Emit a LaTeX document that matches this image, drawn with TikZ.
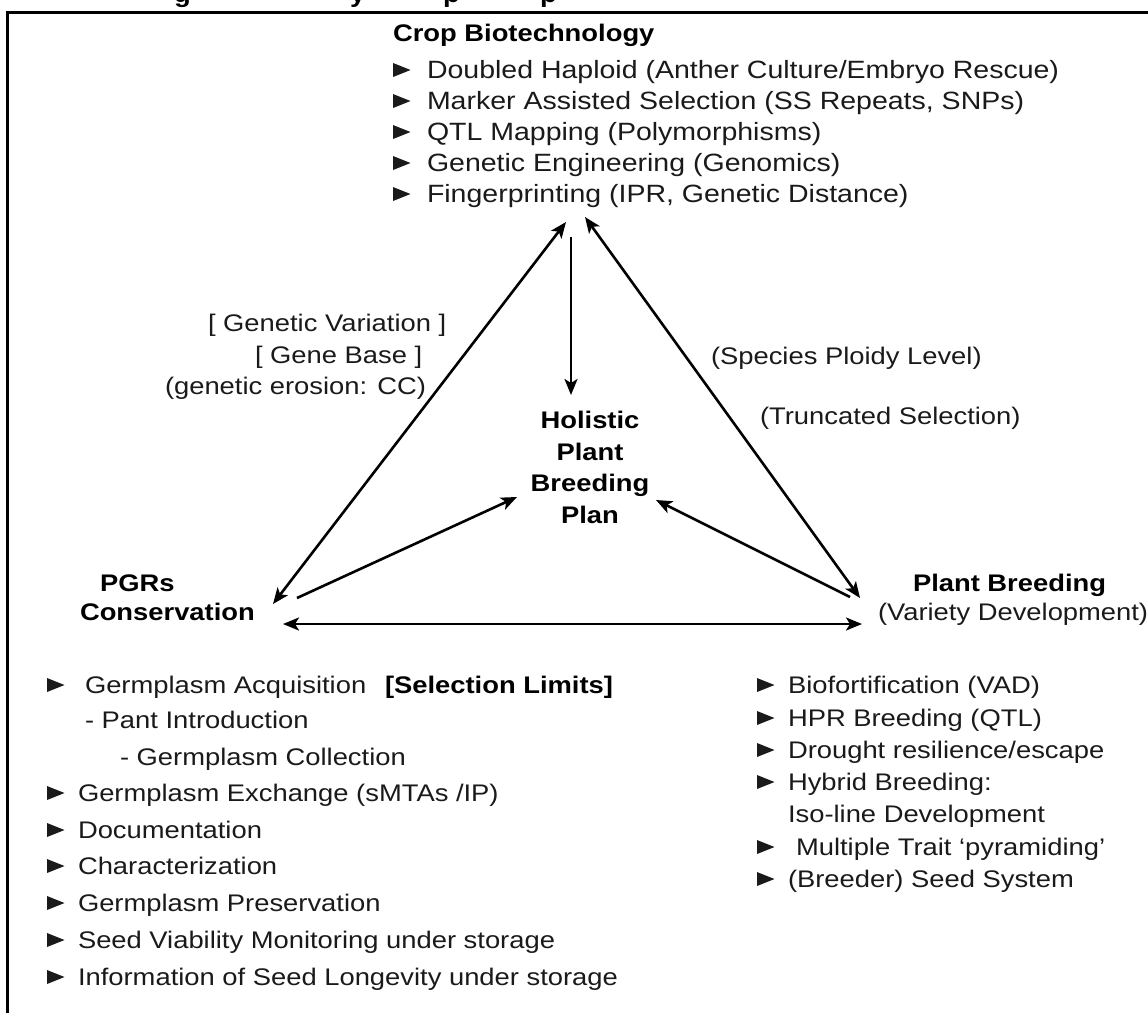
\documentclass[tikz,border=0pt]{standalone}
\usepackage{fontspec}
\setmainfont{Liberation Sans}[FakeStretch=1.14]
\usetikzlibrary{arrows.meta}
\definecolor{ink}{HTML}{1A1A1A}
% small filled pointer in front of a list item: left edge x, text baseline y
\newcommand{\bulletmark}[2]{\fill[ink] (#1,#2) ++(0,-1.5) -- ++(0,-14) -- ++(17.5,7) -- cycle;}
\begin{document}
\begin{tikzpicture}[x=1pt,y=-1pt,
  every node/.style={inner sep=0pt,outer sep=0pt},
  body/.style={anchor=base west,text=ink,font=\fontsize{24}{31}\selectfont},
  bigbody/.style={anchor=base west,text=ink,font=\fontsize{25}{31}\selectfont},
  head/.style={anchor=base west,text=black,font=\fontsize{24}{31}\selectfont\bfseries},
  link/.style={line width=2.6pt,draw=black},
  >={Stealth[length=16pt,width=13pt,inset=4pt]}]
\useasboundingbox (0,0) rectangle (1148,1012);

% frame
\draw[line width=3pt] (7,1030) -- (7,12) -- (1170,12);

% descenders of the heading line above the frame
\begin{scope}
  \clip (0,0) rectangle (1148,10);
  \node[head] (hg) at (174,2) {g};
  \node[head] (hy) at (350,2) {y};
  \node[head] (hp1) at (443,2) {p};
  \node[head] (hp2) at (540,2) {p};
\end{scope}

% crop biotechnology
\node[head] (cb) at (393,41.5) {Crop Biotechnology};
\foreach \yy/\txt [count=\i] in {
  78.5/{Doubled Haploid (Anther Culture/Embryo Rescue)},
  109.5/{Marker Assisted Selection (SS Repeats, SNPs)},
  140.5/{QTL Mapping (Polymorphisms)},
  171.5/{Genetic Engineering (Genomics)},
  202.5/{Fingerprinting (IPR, Genetic Distance)}}{
  \node[bigbody] (cb\i) at (427,\yy) {\txt};
  \bulletmark{393}{\yy}
}

% edge labels
\node[body] (gv) at (208,331.5) {[ Genetic Variation ]};
\node[body] (gb) at (255,363.5) {[ Gene Base ]};
\node[body] (ge) at (165,394.5) {(genetic erosion: CC)};
\node[body] (sp) at (711,364.5) {(Species Ploidy Level)};
\node[body] (ts) at (760,424.5) {(Truncated Selection)};

% centre
\node[anchor=north,align=center,text=black,
      font=\fontsize{24}{31.5}\selectfont\bfseries] (hol) at (590,411.5)
      {Holistic\\Plant\\Breeding\\Plan};

% corners
\node[head] (pgr1) at (100,591.5) {PGRs};
\node[head] (pgr2) at (80,620.5) {Conservation};
\node[head] (pb1) at (913,591.5) {Plant Breeding};
\node[body] (pb2) at (878,620.5) {(Variety Development)};

% connector ends
\coordinate (topL) at (566,222);
\coordinate (topR) at (585,217);
\coordinate (vtop) at (571,237);
\coordinate (holT) at (571,395);
\coordinate (holL) at (517,497);
\coordinate (holR) at (656,500);
\coordinate (pgA) at (273,604);
\coordinate (pgB) at (297,598);
\coordinate (pgC) at (283,624);
\coordinate (pbA) at (860,598);
\coordinate (pbB) at (850,597);
\coordinate (pbC) at (862,624);

\draw[link,<->] (pgA) -- (topL);
\draw[link,<->] (topR) -- (pbA);
\draw[link,->] (vtop) -- (holT);
\draw[link,->] (pgB) -- (holL);
\draw[link,->] (pbB) -- (holR);
\draw[link,<->] (pgC) -- (pbC);

% conservation activities
\node[body] (pl1) at (85,693.5) {Germplasm Acquisition};
\node[head] (sl) at (385,693.5) {[Selection Limits]};
\bulletmark{47}{693.5}
\node[body] (pl1a) at (85,728.5) {- Pant Introduction};
\node[body] (pl1b) at (120,765.5) {- Germplasm Collection};
\foreach \yy/\txt [count=\i] in {
  801.5/{Germplasm Exchange (sMTAs /IP)},
  838.5/{Documentation},
  874.5/{Characterization},
  911.5/{Germplasm Preservation},
  948.5/{Seed Viability Monitoring under storage},
  985.5/{Information of Seed Longevity under storage}}{
  \node[body] (pl\i x) at (78,\yy) {\txt};
  \bulletmark{47}{\yy}
}

% breeding activities
\node[body] (br1) at (788,693.5) {Biofortification (VAD)};
\node[body] (br2) at (788,726.5) {HPR Breeding (QTL)};
\node[body] (br3) at (788,758.5) {Drought resilience/escape};
\node[body] (br4) at (788,790.5) {Hybrid Breeding:};
\node[body] (br4a) at (788,822.5) {Iso-line Development};
\node[body] (br5) at (796,855.5) {Multiple Trait ‘pyramiding’};
\node[body] (br6) at (788,887.5) {(Breeder) Seed System};
\foreach \yy in {693.5,726.5,758.5,790.5,855.5,887.5}{
  \bulletmark{757}{\yy}
}
\end{tikzpicture}
\end{document}
